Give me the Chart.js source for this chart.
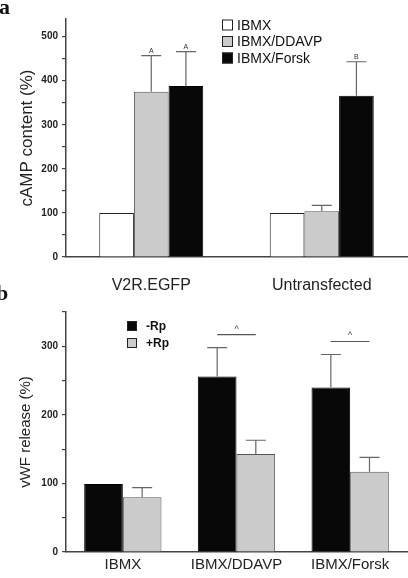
<!DOCTYPE html>
<html>
<head>
<meta charset="utf-8">
<script src="https://cdn.jsdelivr.net/npm/chart.js@4"></script>
<style>
  body { margin: 0; background: #fff; }
  #wrap { position: relative; width: 408px; height: 578px; overflow: hidden; }
  canvas { position: absolute; left: 0; }
  #chartA { top: 0; }
  #chartB { top: 290px; }
  .panel { position: absolute; font: bold 22px "Liberation Serif", serif; color: #111; }
</style>
</head>
<body>
<div id="wrap">
  <canvas id="chartA" width="408" height="290"></canvas>
  <canvas id="chartB" width="408" height="288"></canvas>
  <div class="panel" style="left:-1px; top:-6px;">a</div>
  <div class="panel" style="left:-4px; top:280px;">b</div>
</div>
<script>
// ---- panel a data (cAMP content, %) ----
const groupsA = ['V2R.EGFP', 'Untransfected'];
const ibmxA = [100, 100];
const ddavpA = [375, 104];
const forskA = [388, 366];
const ddavpErrA = [82, 13];
const forskErrA = [78, 77];
const ddavpSigA = ['A', ''];
const forskSigA = ['A', 'B'];

// ---- panel b data (vWF release, %) ----
const groupsB = ['IBMX', 'IBMX/DDAVP', 'IBMX/Forsk'];
const minusRp = [99, 256, 240];
const plusRp = [80, 143, 117];
const minusRpErr = [0, 42, 48];
const plusRpErr = [14, 20, 21];
const bracketB = [null, 317, 307];

const FONT = '"Liberation Sans", Arial, sans-serif';
const AXIS = '#444';

// error bars (upward only) + letters above the caps
const errorBars = {
  id: 'errorBars',
  afterDatasetsDraw(chart) {
    const ctx = chart.ctx;
    const y = chart.scales.y;
    chart.data.datasets.forEach((ds, di) => {
      if (!ds.errors) return;
      const meta = chart.getDatasetMeta(di);
      meta.data.forEach((bar, i) => {
        const err = ds.errors[i];
        if (!err) return;
        const top = y.getPixelForValue(ds.data[i] + err);
        ctx.save();
        ctx.strokeStyle = '#666';
        ctx.lineWidth = 1.2;
        ctx.beginPath();
        ctx.moveTo(bar.x, bar.y);
        ctx.lineTo(bar.x, top);
        ctx.moveTo(bar.x - 10, top);
        ctx.lineTo(bar.x + 10, top);
        ctx.stroke();
        if (ds.sig && ds.sig[i]) {
          ctx.fillStyle = '#333';
          ctx.font = '7px ' + FONT;
          ctx.textAlign = 'center';
          ctx.textBaseline = 'bottom';
          ctx.fillText(ds.sig[i], bar.x, top - 1);
        }
        ctx.restore();
      });
    });
  }
};

// bracket lines between the two bars of a group (panel b)
const brackets = {
  id: 'brackets',
  afterDatasetsDraw(chart, args, opts) {
    if (!opts.values) return;
    const ctx = chart.ctx;
    const y = chart.scales.y;
    const m0 = chart.getDatasetMeta(0), m1 = chart.getDatasetMeta(1);
    opts.values.forEach((v, i) => {
      if (v == null) return;
      const py = y.getPixelForValue(v);
      ctx.save();
      ctx.strokeStyle = '#555';
      ctx.lineWidth = 1.2;
      ctx.beginPath();
      ctx.moveTo(m0.data[i].x, py);
      ctx.lineTo(m1.data[i].x, py);
      ctx.stroke();
      ctx.fillStyle = '#444';
      ctx.font = '9px ' + FONT;
      ctx.textAlign = 'center';
      ctx.textBaseline = 'bottom';
      ctx.fillText('^', (m0.data[i].x + m1.data[i].x) / 2, py - 1);
      ctx.restore();
    });
  }
};

// small square legend drawn from the datasets
const boxLegend = {
  id: 'boxLegend',
  afterDraw(chart, args, opts) {
    const ctx = chart.ctx;
    chart.data.datasets.forEach((ds, i) => {
      const cy = opts.y + i * opts.gap;
      ctx.save();
      ctx.fillStyle = ds.backgroundColor;
      ctx.strokeStyle = '#222';
      ctx.lineWidth = 1;
      ctx.fillRect(opts.x, cy - opts.box / 2, opts.box, opts.box);
      ctx.strokeRect(opts.x + 0.5, cy - opts.box / 2 + 0.5, opts.box - 1, opts.box - 1);
      ctx.fillStyle = '#111';
      ctx.font = opts.font;
      ctx.textAlign = 'left';
      ctx.textBaseline = 'middle';
      ctx.fillText(ds.label, opts.textX, cy + 1);
      ctx.restore();
    });
  }
};

function yScale(max, title, titleSize, titlePad, yW) {
  return {
    min: 0, max: max,
    afterBuildTicks: s => { s.ticks = s.ticks.filter(t => t.value % 50 === 0); },
    afterFit: s => { s.width = yW; },
    ticks: {
      stepSize: 50,
      color: '#222',
      font: { family: FONT, size: 10, weight: 'bold' },
      padding: 4,
      callback: v => (v % 100 === 0 ? v : '')
    },
    grid: { drawOnChartArea: false, drawTicks: true, tickLength: 4, color: AXIS, lineWidth: 1.2 },
    border: { display: true, color: AXIS, width: 1.5 },
    title: { display: true, text: title, color: '#222', font: { family: FONT, size: titleSize }, padding: { top: titlePad, bottom: 0 } }
  };
}

function xScale(h, fontSize, pad) {
  return {
    afterFit: s => { s.height = h; },
    grid: { display: false, drawTicks: false },
    border: { display: true, color: AXIS, width: 1.5 },
    ticks: { color: '#222', font: { family: FONT, size: fontSize }, padding: pad, maxRotation: 0 }
  };
}

new Chart(document.getElementById('chartA').getContext('2d'), {
  type: 'bar',
  data: {
    labels: groupsA,
    datasets: [
      { label: 'IBMX', data: ibmxA, backgroundColor: '#ffffff', borderColor: '#222', borderWidth: 1 },
      { label: 'IBMX/DDAVP', data: ddavpA, errors: ddavpErrA, sig: ddavpSigA, backgroundColor: '#cbcbcb', borderColor: '#555', borderWidth: 1 },
      { label: 'IBMX/Forsk', data: forskA, errors: forskErrA, sig: forskSigA, backgroundColor: '#080808', borderColor: '#000', borderWidth: 1 }
    ]
  },
  options: {
    responsive: false,
    animation: false,
    devicePixelRatio: 1,
    layout: { padding: { top: 19, right: 1, left: 0, bottom: 0 } },
    datasets: { bar: { categoryPercentage: 0.61, barPercentage: 1.0 } },
    plugins: {
      legend: { display: false },
      tooltip: { enabled: false },
      boxLegend: { x: 222, y: 25, gap: 16.5, box: 11, textX: 237, font: '14px ' + FONT }
    },
    scales: {
      x: xScale(33, 16, 19),
      y: yScale(540, 'cAMP content (%)', 17, 17, 66)
    }
  },
  plugins: [errorBars, boxLegend]
});

new Chart(document.getElementById('chartB').getContext('2d'), {
  type: 'bar',
  data: {
    labels: groupsB,
    datasets: [
      { label: '-Rp', data: minusRp, errors: minusRpErr, backgroundColor: '#080808', borderColor: '#000', borderWidth: 1 },
      { label: '+Rp', data: plusRp, errors: plusRpErr, backgroundColor: '#cbcbcb', borderColor: '#555', borderWidth: 1 }
    ]
  },
  options: {
    responsive: false,
    animation: false,
    devicePixelRatio: 1,
    layout: { padding: { top: 22, right: 1, left: 0, bottom: 0 } },
    datasets: { bar: { categoryPercentage: 0.68, barPercentage: 1.0 } },
    plugins: {
      legend: { display: false },
      tooltip: { enabled: false },
      brackets: { values: bracketB },
      boxLegend: { x: 127, y: 36, gap: 17, box: 10, textX: 146, font: 'bold 12px ' + FONT }
    },
    scales: {
      x: xScale(26, 15, 4),
      y: yScale(350, 'vWF release (%)', 15, 17, 66)
    }
  },
  plugins: [errorBars, brackets, boxLegend]
});
</script>
</body>
</html>
